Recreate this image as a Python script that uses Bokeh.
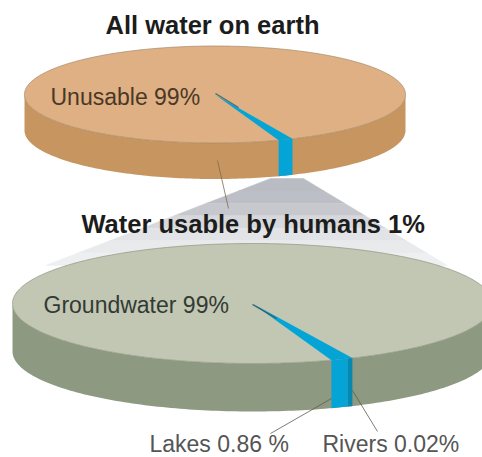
import numpy as np
from bokeh.plotting import figure
from bokeh.models import Range1d
from bokeh.core.properties import value
from bokeh.embed import file_html
from bokeh.resources import INLINE

# data
top_title = "All water on earth"
bottom_title = "Water usable by humans 1%"
top_labels = ["Unusable 99%"]
bottom_labels = ["Groundwater 99%", "Lakes 0.86 %", "Rivers 0.02%"]
# slice limits in degrees, measured round the drawn (tilted) disc from its front point
top_slice_deg = [19.5, 24.0]
lakes_slice_deg = [19.2, 23.4]
rivers_slice_deg = [23.4, 24.6]

TOP = dict(cx=214.5, cy=94, rx=190.5, ry=48.5, depth=36)
BOT = dict(cx=252, cy=303, rx=240, ry=60, depth=48)

FONT = "Liberation Sans"
BLUE, BLUE_DK = "#04a5d6", "#0788b0"


def rim(d, deg, drop=0):
    t = np.radians(np.asarray(deg, dtype=float))
    return d["cx"] + d["rx"] * np.sin(t), d["cy"] + d["ry"] * np.cos(t) + drop


def arc(a, b, n=160):
    return np.linspace(a, b, n)


p = figure(width=482, height=457, output_backend="svg", toolbar_location=None,
           x_range=Range1d(0, 482), y_range=Range1d(457, 0),
           min_border=0, outline_line_color=None, background_fill_color="white",
           border_fill_color="white")
p.axis.visible = False
p.grid.visible = False


def disc(d, top_col, side_col, edge):
    a = arc(-90, 90)
    x1, y1 = rim(d, a)
    x2, y2 = rim(d, a[::-1], d["depth"])
    p.patch(np.r_[x1, x2], np.r_[y1, y2], fill_color=side_col, line_color=None)
    a = arc(0, 360, 361)
    x, y = rim(d, a)
    p.patch(x, y, fill_color=top_col, line_color=edge, line_width=0.7)


def slice_top(d, lim, col):
    x, y = rim(d, arc(lim[0], lim[1], 8))
    p.patch(np.r_[d["cx"], x], np.r_[d["cy"], y], fill_color=col, line_color=None)


def slice_side(d, lim, col):
    a = arc(lim[0], lim[1], 8)
    x1, y1 = rim(d, a)
    x2, y2 = rim(d, a[::-1], d["depth"])
    p.patch(np.r_[x1, x2], np.r_[y1, y2], fill_color=col, line_color=None)


# funnel from the upper slice to the lower disc, fading downward
ax0, ay0 = 270.0, 178.0
ax1, ay1 = 303.0, 178.0
bx0, by0 = 45.0, 265.0
bx1, by1 = 447.0, 265.0
shades = ["#b9bcc3", "#bcbfc5", "#c6c8cd", "#d6d8db", "#e2e3e6", "#e9eaec", "#eeeff0"]
n = len(shades)
for i, c in enumerate(shades):
    f0, f1 = i / n, (i + 1) / n
    p.patch([ax0 + (bx0 - ax0) * f0, ax1 + (bx1 - ax1) * f0, ax1 + (bx1 - ax1) * f1, ax0 + (bx0 - ax0) * f1],
            [ay0 + (by0 - ay0) * f0, ay1 + (by1 - ay1) * f0, ay1 + (by1 - ay1) * f1, ay0 + (by0 - ay0) * f1],
            fill_color=c, line_color=c, line_width=0.5)

# upper disc
disc(TOP, "#dfb083", "#c7955f", "#a58a6c")
slice_top(TOP, top_slice_deg, BLUE)
slice_side(TOP, top_slice_deg, BLUE)

# lower disc
disc(BOT, "#c1c7b3", "#8e9981", "#8f9584")
slice_top(BOT, [lakes_slice_deg[0], rivers_slice_deg[1]], BLUE)
slice_side(BOT, lakes_slice_deg, BLUE)
slice_side(BOT, rivers_slice_deg, BLUE_DK)

# leader lines
lc = "#5f5a50"
p.line([215, 238], [93, 107], line_color="#4a6a70", line_width=1.2)
p.line([252, 276], [304, 318], line_color="#3d5a60", line_width=1.2)
p.line([217, 228], [160, 208], line_color="#7d6a50", line_width=0.8)
p.line([331, 270], [398, 433], line_color=lc, line_width=0.8)
p.line([352, 377], [390, 431], line_color=lc, line_width=0.8)


def txt(x, y, s, size, style="normal", col="#3a3a38"):
    p.text([x], [y], text=[s], text_font=value(FONT), text_font_size=size, text_font_style=style,
           text_color=col, text_align="left", text_baseline="middle")


txt(105, 24, top_title, "25.5px", "bold", "#1c1c1c")
txt(81, 223, bottom_title, "25.5px", "bold", "#1c1c1c")
txt(50, 96, top_labels[0], "23px", "normal", "#4a3828")
txt(43, 304, bottom_labels[0], "23px", "normal", "#333a33")
txt(149, 443, bottom_labels[1], "23px", "normal", "#555555")
txt(322, 443, bottom_labels[2], "23px", "normal", "#555555")

open("out.html", "w").write(file_html(p, INLINE))
